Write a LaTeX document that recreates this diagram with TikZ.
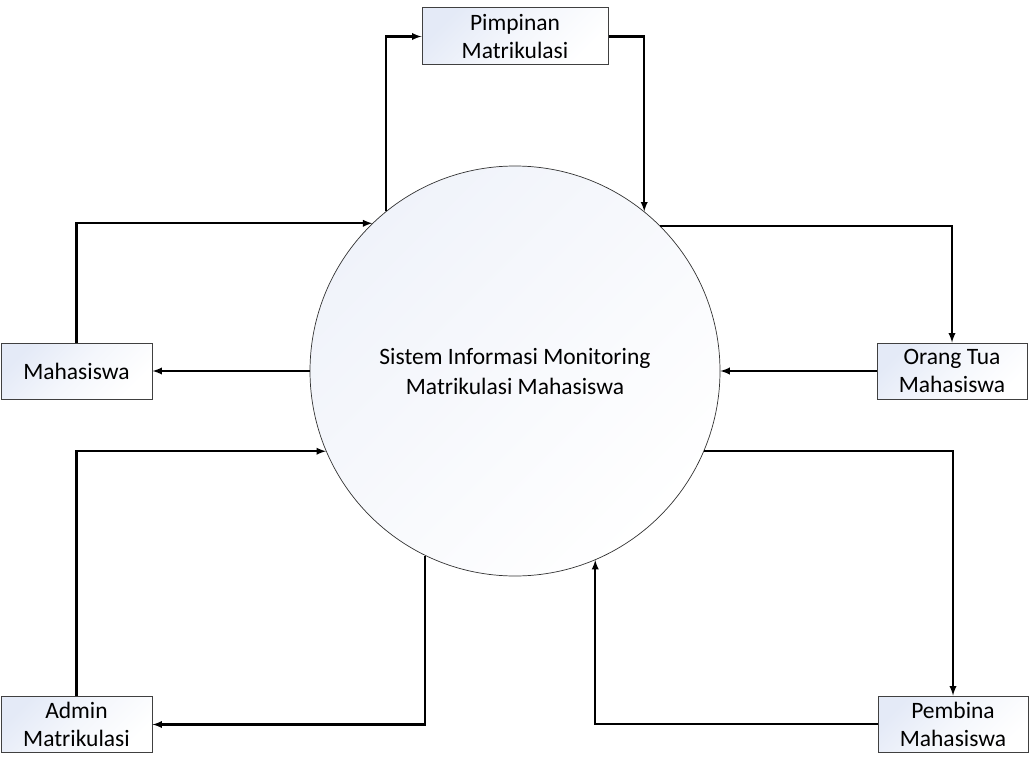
\documentclass[tikz,border=0pt]{standalone}
\usepackage{fontspec}
\setmainfont{Carlito}
\definecolor{boxblue}{HTML}{E4EAF7}
\definecolor{circblue}{HTML}{F0F3FA}
\begin{document}
\begin{tikzpicture}[x=1pt,y=-1pt,
  ent/.style={draw=black!75, line width=1pt, top color=boxblue, bottom color=white, middle color=white!60!boxblue, shading angle=45,
    inner sep=0pt, minimum height=56pt, align=center, font=\fontsize{23.5}{28}\selectfont},
  proc/.style={circle, draw=black!80, line width=0.7pt, top color=circblue, bottom color=white, shading angle=45,
    minimum size=410pt, inner sep=0pt, align=center, font=\fontsize{23.5}{30}\selectfont},
  arr/.style={-latex, line width=2.2pt, black}]
\useasboundingbox (0,0) rectangle (1030,765);
\node[proc] (c) at (515,371) {Sistem Informasi Monitoring\\Matrikulasi Mahasiswa};
\node[ent, minimum width=151pt] (mah) at (76.5,371) {Mahasiswa};
\node[ent, minimum width=186pt, minimum height=57pt] (pim) at (515,36.5) {Pimpinan\\Matrikulasi};
\node[ent, minimum width=150pt] (ot) at (952,371) {Orang Tua\\Mahasiswa};
\node[ent, minimum width=151pt] (adm) at (76.5,724.5) {Admin\\Matrikulasi};
\node[ent, minimum width=150pt] (pem) at (953,724) {Pembina\\Mahasiswa};
\draw[arr] (c.129.7) |- (pim.west);
\draw[arr] (pim.east) -| (c.51.7);
\draw[arr] (mah.north) |- (c.134.2);
\draw[arr] (c.west) -- (mah.east);
\draw[arr] (c.45.5) -| (ot.north);
\draw[arr] (ot.west) -- (c.east);
\draw[arr] (adm.north) |- (c.203.8);
\draw[arr] (c.244.9) |- (adm.east);
\draw[arr] (c.337.5) -| (pem.north);
\draw[arr] (pem.west) -| (c.293.9);
\end{tikzpicture}
\end{document}
